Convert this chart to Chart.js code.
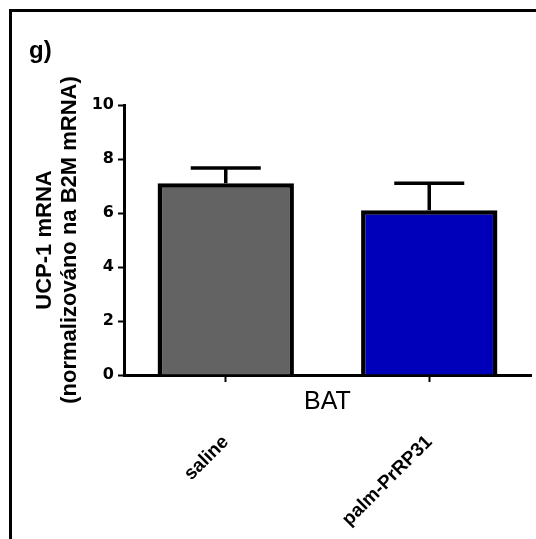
<!DOCTYPE html>
<html>
<head>
<meta charset="utf-8">
<script src="https://cdn.jsdelivr.net/npm/chart.js@4/dist/chart.umd.min.js"></script>
<style>
  html, body { margin: 0; padding: 0; background: #ffffff; }
  #wrap { width: 536px; height: 539px; }
</style>
</head>
<body>
<div id="wrap"><canvas id="c" width="536" height="539"></canvas></div>
<script>
const panelLabel = 'g)';
const categories = ['saline', 'palm-PrRP31'];
const means = [7.1, 6.1];
const sems = [0.57, 1.0];
const barColors = ['#636363', '#0000BB'];
const yTickValues = [0, 2, 4, 6, 8, 10];
const yTitleLines = ['UCP-1 mRNA', '(normalizováno na B2M mRNA)'];
const xTitle = 'BAT';

const frameAndErrors = {
  id: 'frameAndErrors',
  beforeDraw(chart) {
    const ctx = chart.ctx;
    ctx.save();
    ctx.fillStyle = '#ffffff';
    ctx.fillRect(0, 0, chart.width, chart.height);
    ctx.strokeStyle = '#000000';
    ctx.lineWidth = 3;
    ctx.beginPath();
    ctx.moveTo(10.5, chart.height + 5);
    ctx.lineTo(10.5, 10.5);
    ctx.lineTo(chart.width + 5, 10.5);
    ctx.stroke();
    ctx.fillStyle = '#000000';
    ctx.font = 'bold 24px "Liberation Sans", Arial, sans-serif';
    ctx.textAlign = 'left';
    ctx.textBaseline = 'alphabetic';
    ctx.fillText(panelLabel, 29, 58);
    ctx.restore();
  },
  afterDatasetsDraw(chart) {
    const ctx = chart.ctx;
    const yScale = chart.scales.y;
    const meta = chart.getDatasetMeta(0);
    ctx.save();
    ctx.strokeStyle = '#000000';
    ctx.lineWidth = 3.5;
    meta.data.forEach((bar, i) => {
      const x = bar.x;
      const yTop = yScale.getPixelForValue(means[i] + sems[i]);
      const yBase = yScale.getPixelForValue(means[i]);
      ctx.beginPath();
      ctx.moveTo(x, yBase);
      ctx.lineTo(x, yTop);
      ctx.moveTo(x - 35, yTop);
      ctx.lineTo(x + 35, yTop);
      ctx.stroke();
    });
    ctx.restore();
  }
};

new Chart(document.getElementById('c'), {
  type: 'bar',
  data: {
    labels: categories,
    datasets: [{
      data: means,
      backgroundColor: barColors,
      borderColor: '#000000',
      borderWidth: 4.5,
      borderSkipped: 'start',
      barPercentage: 0.67,
      categoryPercentage: 1.0
    }]
  },
  options: {
    responsive: false,
    animation: false,
    layout: { padding: { top: 105, right: 5, left: 0, bottom: 0 } },
    plugins: {
      legend: { display: false },
      tooltip: { enabled: false },
      title: { display: false }
    },
    scales: {
      x: {
        offset: true,
        grid: {
          offset: false,
          drawOnChartArea: false,
          drawTicks: true,
          tickLength: 7,
          tickWidth: 2,
          tickColor: '#000000'
        },
        border: { display: true, color: '#000000', width: 3 },
        ticks: {
          color: '#000000',
          font: { family: '"Liberation Sans", Arial, sans-serif', size: 19, weight: 'bold' },
          minRotation: 45,
          maxRotation: 45,
          padding: 49,
          autoSkip: false
        },
        title: {
          display: true,
          text: xTitle,
          color: '#000000',
          font: { family: '"Liberation Sans", Arial, sans-serif', size: 25, weight: 'normal', lineHeight: 1.2 },
          padding: { top: 0, bottom: 122 }
        },
        afterFit(scale) { scale.height = 164; }
      },
      y: {
        min: 0,
        max: 10,
        afterBuildTicks(scale) { scale.ticks = yTickValues.map(v => ({ value: v })); },
        grid: {
          drawOnChartArea: false,
          drawTicks: true,
          tickLength: 6,
          tickWidth: 2,
          tickColor: '#000000'
        },
        border: { display: true, color: '#000000', width: 3 },
        ticks: {
          color: '#000000',
          font: { family: '"DejaVu Sans", sans-serif', size: 16, weight: 'bold' },
          padding: 4
        },
        title: {
          display: true,
          text: yTitleLines,
          color: '#000000',
          font: { family: '"Liberation Sans", Arial, sans-serif', size: 22, weight: 'bold', lineHeight: 1.14 },
          padding: { top: 32, bottom: 0 }
        },
        afterFit(scale) { scale.width = 124; }
      }
    }
  },
  plugins: [frameAndErrors]
});
</script>
</body>
</html>
